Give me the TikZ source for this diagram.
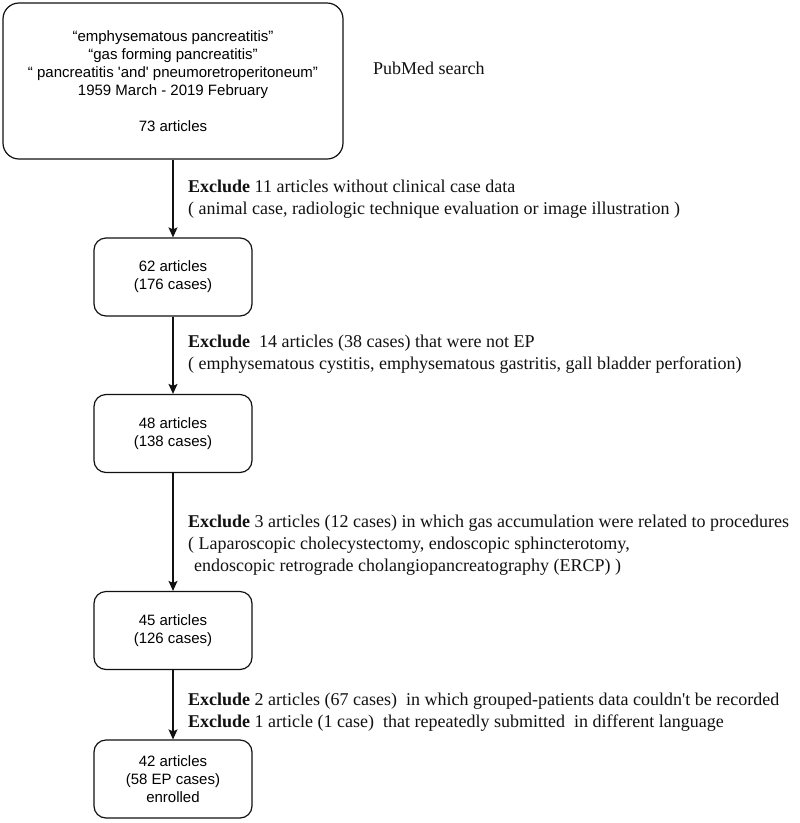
\documentclass[tikz,border=0pt]{standalone}
\usepackage{fontspec}
\setmainfont{Liberation Serif}
\newfontfamily\boxfont{Liberation Sans}
\newfontfamily\notefont{Liberation Serif}
\usetikzlibrary{arrows.meta, positioning}
\definecolor{inkblack}{HTML}{111111}

\begin{document}
\begin{tikzpicture}[x=1pt, y=-1pt,
    stage/.style={draw=inkblack, line width=1.2pt, rounded corners=12pt, minimum width=158pt,
      minimum height=78pt, inner sep=0pt, align=center, font=\boxfont\fontsize{15}{18}\selectfont},
    note/.style={anchor=west, align=left, inner sep=0pt, text=inkblack,
      font=\notefont\fontsize{18}{22}\selectfont},
    flow/.style={draw=inkblack, line width=1.2pt, -{Stealth[length=10pt, width=9pt, inset=2pt]}}]
  \useasboundingbox (0,0) rectangle (800,823);
  % search box
  \node[stage, minimum width=340pt, minimum height=156pt, rounded corners=16pt] (search) at (173,81)
    {“emphysematous pancreatitis”\\ “gas forming pancreatitis”\\
     “ pancreatitis 'and' pneumoretroperitoneum”\\ 1959 March - 2019 February\\[18pt] 73 articles};
  \node[note] (pubmed) at (373,68) {PubMed search};
  % remaining articles
  \node[stage] (art62) at (173,277) {62 articles\\ (176 cases)};
  \node[stage] (art48) at (173,433.5) {48 articles\\ (138 cases)};
  \node[stage] (art45) at (173,630.5) {45 articles\\ (126 cases)};
  \node[stage] (art42) at (173,779) {42 articles\\ (58 EP cases)\\ enrolled};
  \draw[flow] (search.south) -- (art62.north);
  \draw[flow] (art62.south) -- (art48.north);
  \draw[flow] (art48.south) -- (art45.north);
  \draw[flow] (art45.south) -- (art42.north);
  % exclusions
  \node[note] (ex11) at (188,199)
    {\textbf{Exclude} 11 articles without clinical case data\\
     ( animal case, radiologic technique evaluation or image illustration )};
  \node[note] (ex14) at (188,354)
    {\textbf{Exclude}~ 14 articles (38 cases) that were not EP\\
     ( emphysematous cystitis, emphysematous gastritis, gall bladder perforation)};
  \node[note] (ex3) at (188,545)
    {\textbf{Exclude} 3 articles (12 cases) in which gas accumulation were related to procedures\\
     ( Laparoscopic cholecystectomy, endoscopic sphincterotomy,\\
     \hspace*{6pt}endoscopic retrograde cholangiopancreatography (ERCP) )};
  \node[note] (ex2) at (188,712)
    {\textbf{Exclude} 2 articles (67 cases)~ in which grouped-patients data couldn't be recorded\\
     \textbf{Exclude} 1 article (1 case)~ that repeatedly submitted~ in different language};
\end{tikzpicture}
\end{document}
